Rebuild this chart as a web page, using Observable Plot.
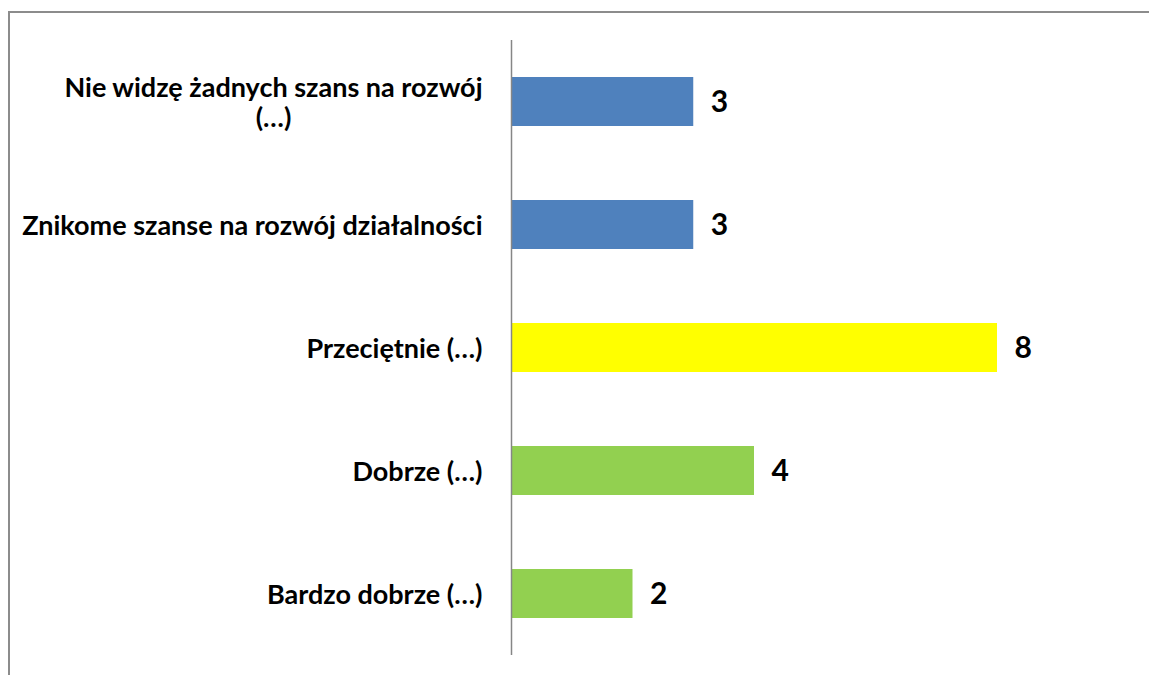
<!DOCTYPE html>
<html>
<head>
<meta charset="utf-8">
<script src="https://cdn.jsdelivr.net/npm/d3@7"></script>
<script src="https://cdn.jsdelivr.net/npm/@observablehq/plot@0.6"></script>
<style>
  html, body { margin: 0; padding: 0; background: #fff; overflow: hidden; }
  #chart svg { display: block; }
</style>
</head>
<body>
<div id="chart"></div>
<script>
const categories = [
  "Nie widzę żadnych szans na rozwój\n(…)",
  "Znikome szanse na rozwój działalności",
  "Przeciętnie (…)",
  "Dobrze (…)",
  "Bardzo dobrze (…)"
];
const values = [3, 3, 8, 4, 2];
const colors = ["#4F81BD", "#4F81BD", "#FFFF00", "#92D050", "#92D050"];

const data = categories.map((c, i) => ({category: c, value: values[i], color: colors[i]}));

const font = "Lato, 'Open Sans', sans-serif";

const chart = Plot.plot({
  width: 1149,
  height: 675,
  marginLeft: 511,
  marginRight: 30.5,
  marginTop: 40,
  marginBottom: 20,
  style: {fontFamily: font, background: "#fff"},
  x: {domain: [0, 10], axis: null},
  y: {domain: categories, paddingInner: 0.6, paddingOuter: 0.3, label: null},
  marks: [
    // outer chart-area border (only top and left edges are visible in the cropped reference)
    () => {
      const p = document.createElementNS("http://www.w3.org/2000/svg", "path");
      p.setAttribute("d", "M9,680V12H1160");
      p.setAttribute("fill", "none");
      p.setAttribute("stroke", "#8c8c8c");
      p.setAttribute("stroke-width", "2");
      return p;
    },
    Plot.barX(data, {y: "category", x: "value", fill: "color"}),
    Plot.ruleX([0], {stroke: "#868686", strokeWidth: 1.5}),
    Plot.axisY({tickSize: 0, tickPadding: 29, fontSize: 27, fontWeight: "bold", fill: "#000", lineHeight: 1.12}),
    Plot.text(data, {y: "category", x: "value", text: d => String(d.value), textAnchor: "start", dx: 17,
      fontSize: 30, fontWeight: "bold", fill: "#000"})
  ]
});
document.getElementById("chart").appendChild(chart);

// Center the lines of multi-line tick labels relative to each other (right edge kept)
chart.querySelectorAll('g[aria-label="y-axis tick label"] text').forEach(t => {
  const spans = t.querySelectorAll("tspan");
  if (spans.length < 2) return;
  const widths = Array.from(spans, s => s.getComputedTextLength());
  const maxW = Math.max(...widths);
  spans.forEach((s, i) => s.setAttribute("x", -(maxW - widths[i]) / 2));
});
</script>
</body>
</html>
